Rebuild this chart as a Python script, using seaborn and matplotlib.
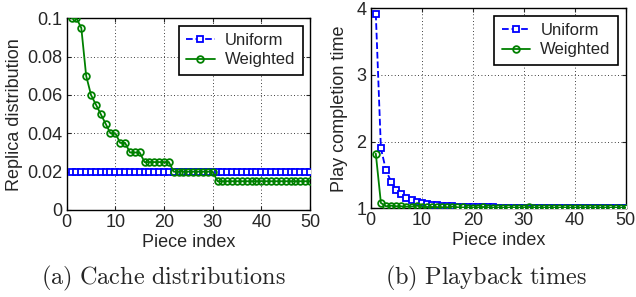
import numpy as np
import pandas as pd
import matplotlib
matplotlib.use("Agg")
import matplotlib.pyplot as plt
import seaborn as sns

# ---- data ----
piece_index = list(range(1, 51))

cache_uniform = [0.02] * 50
cache_weighted = ([0.1, 0.1, 0.095, 0.07, 0.06, 0.055, 0.05, 0.045, 0.04, 0.04,
                   0.035, 0.035, 0.03, 0.03, 0.03]
                  + [0.025] * 6 + [0.02] * 9 + [0.015] * 20)

play_uniform = [3.92, 1.90, 1.57, 1.40, 1.28, 1.21, 1.16, 1.12, 1.10, 1.08,
                1.065, 1.055, 1.045, 1.04, 1.035, 1.03, 1.025, 1.02, 1.02, 1.018,
                1.016, 1.015, 1.014, 1.013, 1.012, 1.012, 1.011, 1.011, 1.010, 1.010,
                1.010, 1.009, 1.009, 1.008, 1.008, 1.008, 1.007, 1.007, 1.007, 1.006,
                1.006, 1.006, 1.006, 1.005, 1.005, 1.005, 1.005, 1.005, 1.004, 1.004]
play_weighted = [1.82, 1.08, 1.03, 1.04, 1.03, 1.03, 1.025, 1.025, 1.04, 1.025,
                 1.02, 1.02, 1.018, 1.016, 1.015, 1.025, 1.015, 1.013, 1.012, 1.012,
                 1.012, 1.02, 1.012, 1.011, 1.011, 1.01, 1.01, 1.01, 1.01, 1.01,
                 1.02, 1.01, 1.01, 1.01, 1.01, 1.01, 1.01, 1.01, 1.01, 1.01,
                 1.01, 1.01, 1.01, 1.01, 1.01, 1.01, 1.01, 1.01, 1.01, 1.01]

left_yticks = [0, 0.02, 0.04, 0.06, 0.08, 0.1]
left_yticklabels = ["0", "0.02", "0.04", "0.06", "0.08", "0.1"]
right_yticks = [1, 2, 3, 4]
xticks = [0, 10, 20, 30, 40, 50]

sns.set_style("ticks")
plt.rcParams['font.family'] = ['Liberation Sans', 'DejaVu Sans']
plt.rcParams['mathtext.fontset'] = 'cm'

fig = plt.figure(figsize=(6.36, 2.97), dpi=100)
ax1 = fig.add_axes([66.7 / 636, 1 - 210 / 297, (310 - 66.7) / 636, (210 - 18.3) / 297])
ax2 = fig.add_axes([370.7 / 636, 1 - 208.3 / 297, (625.7 - 370.7) / 636, (208.3 - 8.3) / 297])

blue = '#0000ff'
green = '#008000'

def draw(ax, uni, wei):
    sns.lineplot(x=piece_index, y=uni, ax=ax, color=blue, linestyle='--',
                 marker='s', markersize=3.8, markerfacecolor='white',
                 markeredgecolor=blue, markeredgewidth=1.3, linewidth=1.3,
                 label='Uniform', zorder=3)
    sns.lineplot(x=piece_index, y=wei, ax=ax, color=green, linestyle='-',
                 marker='o', markersize=4.8, markerfacecolor='none',
                 markeredgecolor=green, markeredgewidth=1.3, linewidth=1.3,
                 label='Weighted', zorder=4)
    ax.set_xlim(0, 50)
    ax.set_xticks(xticks)
    ax.grid(True, color='black', linestyle=(0, (1, 3)), linewidth=0.6)
    ax.tick_params(direction='in', labelsize=13, length=3, width=0.8,
                   top=True, right=True, pad=3)
    for s in ax.spines.values():
        s.set_visible(True)
        s.set_linewidth(1.0)
        s.set_color('black')
    ax.set_xlabel('Piece index', fontsize=13, labelpad=2)
    leg = ax.legend(loc='upper right', fontsize=12, frameon=True, fancybox=False,
                    framealpha=1, edgecolor='black', borderpad=0.45,
                    handlelength=1.7, handletextpad=0.6, labelspacing=0.25,
                    borderaxespad=0.45)
    leg.get_frame().set_linewidth(1.2)

draw(ax1, cache_uniform, cache_weighted)
ax1.set_ylim(0, 0.1)
ax1.set_yticks(left_yticks)
ax1.set_yticklabels(left_yticklabels)
ax1.set_ylabel('Replica distribution', fontsize=13, labelpad=3)

draw(ax2, play_uniform, play_weighted)
ax2.set_ylim(1, 4)
ax2.set_yticks(right_yticks)
ax2.set_ylabel('Play completion time', fontsize=13, labelpad=6)

fig.text(163 / 636, 1 - 278 / 297, r'$\mathrm{(a)\ Cache\ distributions}$',
         ha='center', va='center', fontsize=17.5)
fig.text(486 / 636, 1 - 278 / 297, r'$\mathrm{(b)\ Playback\ times}$',
         ha='center', va='center', fontsize=17.5)

fig.savefig('out.png', dpi=100)
